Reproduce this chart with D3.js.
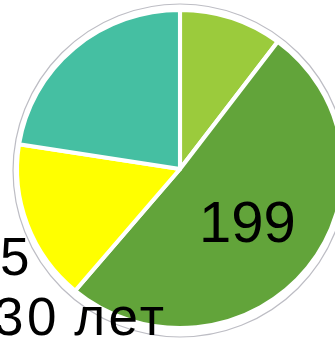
<!DOCTYPE html>
<html>
<head>
<meta charset="utf-8">
<script src="https://cdn.jsdelivr.net/npm/d3@7/dist/d3.min.js"></script>
<style>
  html, body { margin: 0; padding: 0; background: #fff; overflow: hidden; }
  svg { display: block; }
</style>
</head>
<body>
<svg id="chart" width="335" height="339"></svg>
<script>
// Slice data, clockwise from 12 o'clock
const categories = ["A", "B", "C", "D"];
const values = [40, 199, 64, 88];
const colors = ["#9bcb3c", "#62a43a", "#ffff00", "#45bfa2"];
const valueLabels = [null, "199", null, null];
// Category caption lines drawn on the left
const captionLines = ["5", "30 лет"];

const svg = d3.select("#chart");
const cx = 180, cy = 169, R = 159, sx = 1.025;

// thin grey rim around the pie
svg.append("ellipse")
  .attr("cx", cx).attr("cy", cy + 1.5)
  .attr("rx", R * sx + 4).attr("ry", R + 7.5)
  .attr("fill", "none")
  .attr("stroke", "#bdbdc4")
  .attr("stroke-width", 1.2);

const g = svg.append("g").attr("transform", `translate(${cx},${cy}) scale(${sx},1)`);

const pie = d3.pie().sort(null).value(d => d.value).startAngle(0).endAngle(2 * Math.PI);
const arcs = pie(categories.map((c, i) => ({ cat: c, value: values[i], color: colors[i], label: valueLabels[i] })));

const arc = d3.arc().innerRadius(0).outerRadius(R);

g.selectAll("path.slice")
  .data(arcs)
  .join("path")
  .attr("class", "slice")
  .attr("d", arc)
  .attr("fill", d => d.data.color)
  .attr("stroke", "#fff")
  .attr("stroke-width", 4)
  .attr("stroke-linejoin", "round");

// value label inside the large slice
const labelArc = d3.arc().innerRadius(84).outerRadius(84);
svg.selectAll("text.val")
  .data(arcs.filter(d => d.data.label))
  .join("text")
  .attr("class", "val")
  .attr("x", d => cx + labelArc.centroid(d)[0] * sx)
  .attr("y", d => cy + labelArc.centroid(d)[1] + 21)
  .attr("text-anchor", "middle")
  .attr("font-family", "Liberation Sans, Arial, sans-serif")
  .attr("font-size", 58)
  .attr("fill", "#000")
  .text(d => d.data.label);

// caption on the left
svg.append("text")
  .attr("x", 0)
  .attr("y", 275)
  .attr("font-family", "Liberation Sans, Arial, sans-serif")
  .attr("font-size", 53)
  .attr("fill", "#000")
  .text(captionLines[0]);

svg.append("text")
  .attr("x", -6)
  .attr("y", 335)
  .attr("font-family", "Liberation Sans, Arial, sans-serif")
  .attr("font-size", 53)
  .attr("letter-spacing", 3.5)
  .attr("word-spacing", -4)
  .attr("fill", "#000")
  .text(captionLines[1]);
</script>
</body>
</html>
